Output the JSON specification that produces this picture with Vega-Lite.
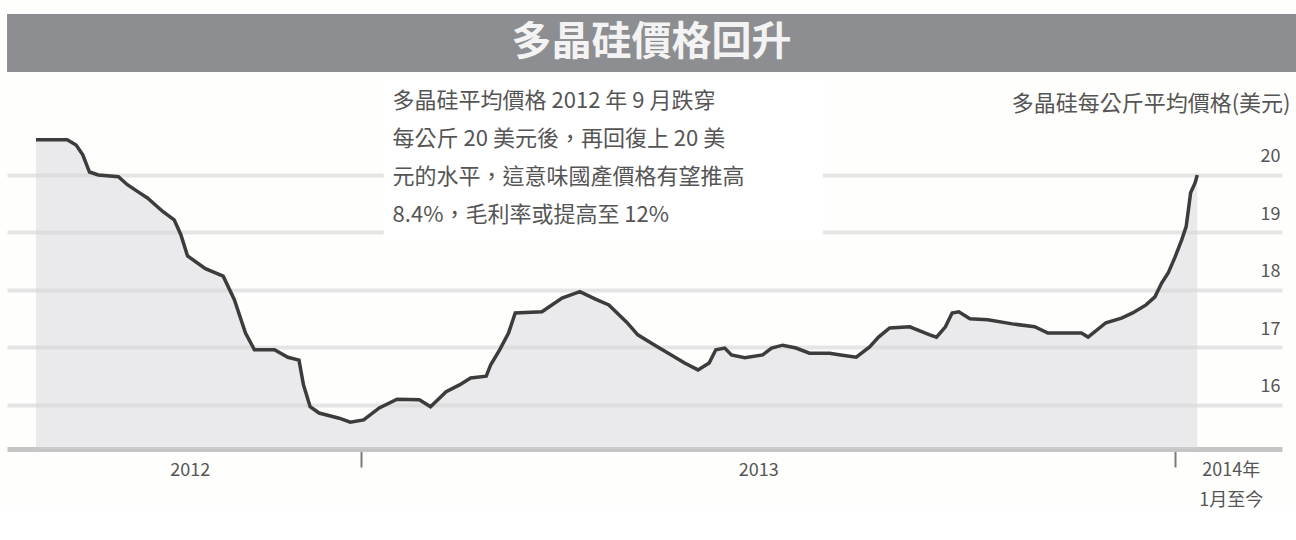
{
  "$schema": "https://vega.github.io/schema/vega-lite/v6.json",
  "background": "#fefefd",
  "padding": {"left": 7, "top": 14, "right": 0, "bottom": 0},
  "spacing": 8,
  "bounds": "flush",
  "config": {"view": {"stroke": null}, "font": "Noto Sans CJK TC"},
  "datasets": {
    "price": [
      {"date": "2012-08-08", "price": 20.61},
      {"date": "2012-08-22", "price": 20.61},
      {"date": "2012-08-26", "price": 20.52},
      {"date": "2012-08-29", "price": 20.35},
      {"date": "2012-09-01", "price": 20.05},
      {"date": "2012-09-05", "price": 20.0},
      {"date": "2012-09-14", "price": 19.97},
      {"date": "2012-09-18", "price": 19.83},
      {"date": "2012-09-23", "price": 19.7},
      {"date": "2012-09-27", "price": 19.6},
      {"date": "2012-10-04", "price": 19.36},
      {"date": "2012-10-09", "price": 19.22},
      {"date": "2012-10-12", "price": 18.96},
      {"date": "2012-10-15", "price": 18.59},
      {"date": "2012-10-23", "price": 18.37},
      {"date": "2012-10-31", "price": 18.24},
      {"date": "2012-11-05", "price": 17.83},
      {"date": "2012-11-10", "price": 17.25},
      {"date": "2012-11-14", "price": 16.96},
      {"date": "2012-11-23", "price": 16.96},
      {"date": "2012-11-29", "price": 16.83},
      {"date": "2012-12-04", "price": 16.78},
      {"date": "2012-12-06", "price": 16.35},
      {"date": "2012-12-09", "price": 15.97},
      {"date": "2012-12-13", "price": 15.86},
      {"date": "2012-12-22", "price": 15.77},
      {"date": "2012-12-27", "price": 15.7},
      {"date": "2013-01-02", "price": 15.74},
      {"date": "2013-01-09", "price": 15.95},
      {"date": "2013-01-17", "price": 16.1},
      {"date": "2013-01-27", "price": 16.09},
      {"date": "2013-02-01", "price": 15.97},
      {"date": "2013-02-08", "price": 16.23},
      {"date": "2013-02-14", "price": 16.35},
      {"date": "2013-02-19", "price": 16.47},
      {"date": "2013-02-26", "price": 16.5},
      {"date": "2013-02-28", "price": 16.7},
      {"date": "2013-03-04", "price": 16.96},
      {"date": "2013-03-08", "price": 17.25},
      {"date": "2013-03-11", "price": 17.6},
      {"date": "2013-03-23", "price": 17.62},
      {"date": "2013-04-01", "price": 17.86},
      {"date": "2013-04-09", "price": 17.97},
      {"date": "2013-04-16", "price": 17.84},
      {"date": "2013-04-22", "price": 17.74},
      {"date": "2013-04-30", "price": 17.44},
      {"date": "2013-05-05", "price": 17.22},
      {"date": "2013-05-13", "price": 17.03},
      {"date": "2013-05-20", "price": 16.87},
      {"date": "2013-05-26", "price": 16.73},
      {"date": "2013-06-01", "price": 16.61},
      {"date": "2013-06-06", "price": 16.73},
      {"date": "2013-06-09", "price": 16.96},
      {"date": "2013-06-13", "price": 16.99},
      {"date": "2013-06-16", "price": 16.87},
      {"date": "2013-06-22", "price": 16.82},
      {"date": "2013-06-30", "price": 16.87},
      {"date": "2013-07-04", "price": 16.99},
      {"date": "2013-07-09", "price": 17.04},
      {"date": "2013-07-15", "price": 16.99},
      {"date": "2013-07-21", "price": 16.9},
      {"date": "2013-07-30", "price": 16.9},
      {"date": "2013-08-04", "price": 16.87},
      {"date": "2013-08-11", "price": 16.83},
      {"date": "2013-08-17", "price": 17.01},
      {"date": "2013-08-21", "price": 17.18},
      {"date": "2013-08-26", "price": 17.34},
      {"date": "2013-09-04", "price": 17.36},
      {"date": "2013-09-13", "price": 17.22},
      {"date": "2013-09-16", "price": 17.18},
      {"date": "2013-09-20", "price": 17.36},
      {"date": "2013-09-23", "price": 17.6},
      {"date": "2013-09-26", "price": 17.62},
      {"date": "2013-10-01", "price": 17.5},
      {"date": "2013-10-09", "price": 17.48},
      {"date": "2013-10-20", "price": 17.41},
      {"date": "2013-10-30", "price": 17.36},
      {"date": "2013-11-05", "price": 17.25},
      {"date": "2013-11-20", "price": 17.25},
      {"date": "2013-11-23", "price": 17.18},
      {"date": "2013-12-01", "price": 17.43},
      {"date": "2013-12-08", "price": 17.51},
      {"date": "2013-12-13", "price": 17.6},
      {"date": "2013-12-19", "price": 17.74},
      {"date": "2013-12-23", "price": 17.88},
      {"date": "2013-12-26", "price": 18.12},
      {"date": "2013-12-29", "price": 18.3},
      {"date": "2014-01-01", "price": 18.57},
      {"date": "2014-01-04", "price": 18.87},
      {"date": "2014-01-06", "price": 19.1},
      {"date": "2014-01-07", "price": 19.39},
      {"date": "2014-01-08", "price": 19.69},
      {"date": "2014-01-10", "price": 19.86},
      {"date": "2014-01-11", "price": 20.0}
    ]
  },
  "vconcat": [
    {
      "width": 1289,
      "height": 58,
      "view": {"fill": "#8d8e91", "stroke": null},
      "data": {"values": [{"title": "多晶硅價格回升"}]},
      "mark": {"type": "text", "font": "Noto Sans CJK TC", "fontSize": 40, "fontWeight": "bold", "color": "#f3f3f3", "baseline": "middle", "align": "center"},
      "encoding": {"text": {"field": "title"}}
    },
    {
      "width": 1275,
      "height": 369,
      "data": {"name": "price"},
      "layer": [
        {
          "mark": {"type": "area", "color": "#d3d3d8", "opacity": 0.45},
          "encoding": {
            "x": {
              "field": "date",
              "type": "temporal",
              "scale": {"type": "utc", "domain": [{"year": 2012, "month": 7, "date": 26, "utc": true}, {"year": 2014, "month": 2, "date": 18, "utc": true}]},
              "axis": {
                "title": null,
                "values": [
                  {"year": 2012, "month": 10, "date": 16, "utc": true},
                  {"year": 2013, "month": 1, "date": 1, "utc": true},
                  {"year": 2013, "month": 6, "date": 28, "utc": true},
                  {"year": 2014, "month": 1, "date": 1, "utc": true},
                  {"year": 2014, "month": 1, "date": 26, "utc": true}
                ],
                "labelExpr": "utcmonth(datum.value) == 9 ? '2012' : (utcmonth(datum.value) == 5 ? '2013' : (utcdate(datum.value) == 26 ? ['2014年', '1月至今'] : ''))",
                "grid": false,
                "domainColor": "#c5c5c5",
                "domainWidth": 5,
                "tickColor": "#7a7a7a",
                "tickWidth": 2,
                "tickSize": 18,
                "tickOpacity": {"condition": {"test": "utcdate(datum.value) == 1", "value": 1}, "value": 0},
                "labelPadding": -6,
                "labelBaseline": "top",
                "labelFontSize": 18,
                "labelColor": "#555555",
                "labelLineHeight": 30,
                "labelFont": "Noto Sans CJK TC",
                "labelOverlap": false,
                "labelFlush": false
              }
            },
            "y": {
              "field": "price",
              "type": "quantitative",
              "scale": {"domain": [15.235, 21.65], "zero": false, "nice": false},
              "axis": {
                "orient": "right",
                "title": "多晶硅每公斤平均價格(美元)",
                "titleAngle": 0,
                "titleAlign": "right",
                "titleBaseline": "middle",
                "titleX": 8,
                "titleY": 23,
                "titleFontSize": 22,
                "titleFontWeight": "normal",
                "titleColor": "#555555",
                "titleFont": "Noto Sans CJK TC",
                "values": [16, 17, 18, 19, 20],
                "format": "d",
                "grid": true,
                "gridColor": "#e5e5e5",
                "gridWidth": 4,
                "domain": false,
                "ticks": false,
                "labelAlign": "right",
                "labelPadding": -2,
                "labelBaseline": "middle",
                "labelOffset": -18,
                "labelFontSize": 18,
                "labelColor": "#555555",
                "labelFont": "Noto Sans CJK TC"
              }
            },
            "y2": {"datum": 15.235}
          }
        },
        {
          "data": {"values": [{}]},
          "mark": {"type": "rect", "color": "#ffffff"},
          "encoding": {
            "x": {"datum": {"year": 2013, "month": 1, "date": 11, "utc": true}, "type": "temporal"},
            "x2": {"datum": {"year": 2013, "month": 7, "date": 27, "utc": true}},
            "y": {"datum": 21.65, "type": "quantitative"},
            "y2": {"datum": 18.88}
          }
        },
        {
          "mark": {"type": "line", "color": "#3c3c3c", "strokeWidth": 3.5},
          "encoding": {
            "x": {"field": "date", "type": "temporal"},
            "y": {"field": "price", "type": "quantitative"}
          }
        },
        {
          "data": {"values": [{}]},
          "mark": {"type": "text", "align": "left", "baseline": "top", "fontSize": 22, "lineHeight": 38, "color": "#555555", "font": "Noto Sans CJK TC"},
          "encoding": {
            "x": {"datum": {"year": 2013, "month": 1, "date": 15, "utc": true}, "type": "temporal"},
            "y": {"datum": 21.46, "type": "quantitative"},
            "text": {"value": ["多晶硅平均價格 2012 年 9 月跌穿", "每公斤 20 美元後，再回復上 20 美", "元的水平，這意味國產價格有望推高", "8.4%，毛利率或提高至 12%"]}
          }
        }
      ]
    }
  ]
}
